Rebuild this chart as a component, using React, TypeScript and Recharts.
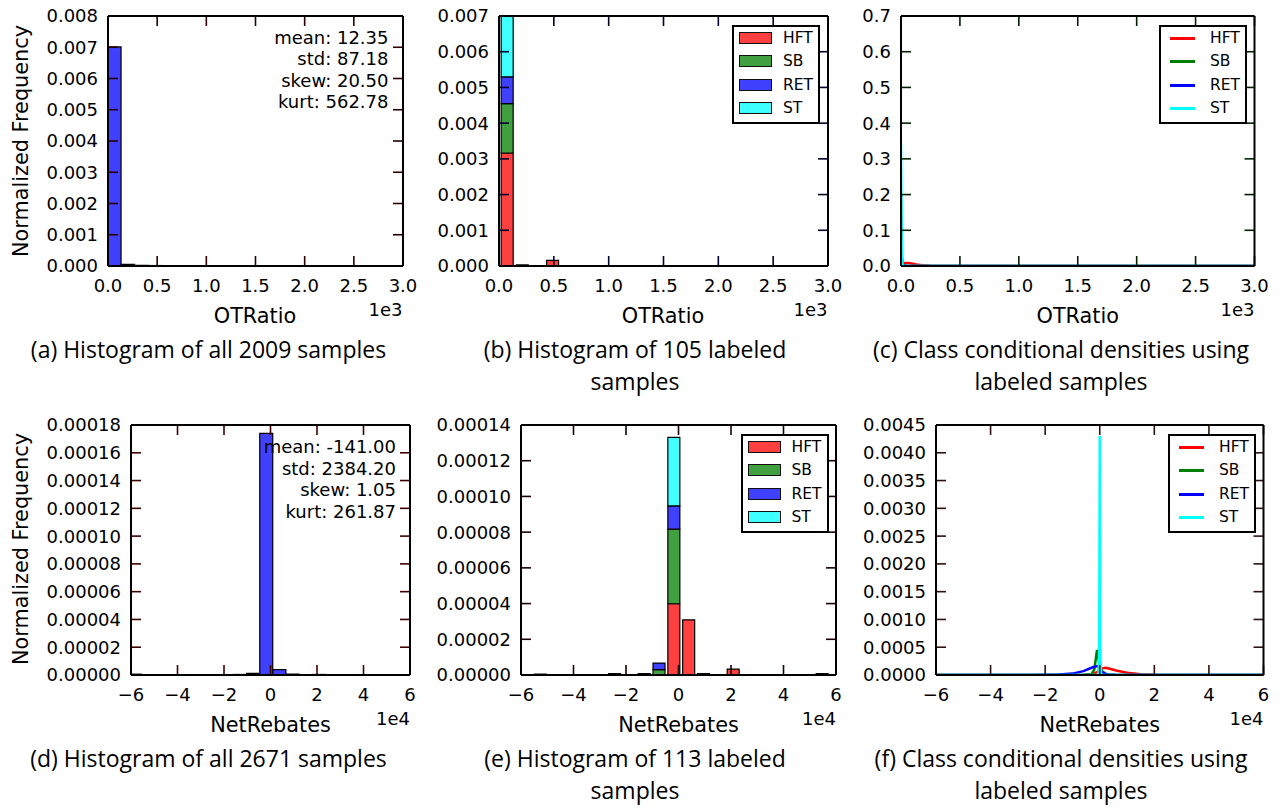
import React from 'react';
import { BarChart, Bar, LineChart, Line, XAxis, YAxis, Legend, ReferenceLine } from 'recharts';

// ---------- shared ----------
const CLASS_NAMES = ['HFT', 'SB', 'RET', 'ST'];
const HIST_COLORS = ['#ff4040', '#40a040', '#4040ff', '#40ffff'];
const LINE_COLORS = ['#ff0000', '#008000', '#0000ff', '#00ffff'];
const ALL_COLOR = '#4040ff';

const OT_TICKS = [0, 500, 1000, 1500, 2000, 2500, 3000];
const NR_TICKS = [-60000, -40000, -20000, 0, 20000, 40000, 60000];

// ---------- (a) OTRatio, all samples ----------
const otBinsAll = [69, 206, 343, 480, 617, 754, 891, 1028, 1165, 1302, 1439, 1576, 1713, 1850, 1987, 2124, 2261, 2398, 2535, 2672];
const otFreqAll = [0.00701, 0.00005, 0.00002, 0.000015, 0.000006, 0.000004, 0.000004, 0.000004, 0, 0.000003, 0, 0, 0.000003, 0, 0, 0, 0, 0, 0, 0.000003];
const otStats = ['mean: 12.35', 'std: 87.18', 'skew: 20.50', 'kurt: 562.78'];
const otYTicksA = [0, 0.001, 0.002, 0.003, 0.004, 0.005, 0.006, 0.007, 0.008];

// ---------- (b) OTRatio, labeled ----------
const otBinsLab = [75, 213, 351, 489, 627, 765, 903, 1041, 1179, 1317, 1455, 1593, 1731, 1869, 2007, 2145, 2283, 2421, 2559, 2697];
const otHFT = [0.003164, 0, 0, 0.00016, 0, 0, 0, 0, 0, 0, 0, 0, 0, 0, 0, 0, 0, 0, 0, 0];
const otSB = [0.001384, 0.00003, 0, 0, 0, 0, 0, 0, 0, 0, 0, 0, 0, 0, 0, 0, 0, 0, 0, 0];
const otRET = [0.000745, 0, 0, 0, 0, 0, 0, 0, 0, 0, 0, 0, 0, 0, 0, 0, 0, 0, 0, 0];
const otST = [0.0017, 0, 0, 0, 0, 0, 0, 0, 0, 0, 0, 0, 0, 0, 0, 0, 0, 0, 0, 0];
const otYTicksB = [0, 0.001, 0.002, 0.003, 0.004, 0.005, 0.006, 0.007];

// ---------- (c) OTRatio, class densities ----------
const otKdeX = [0, 3, 6, 10, 15, 25, 40, 60, 90, 130, 180, 250, 400, 700, 1000, 1500, 2000, 2500, 3000];
const otKdeHFT = [0.002, 0.003, 0.004, 0.005, 0.006, 0.0075, 0.0085, 0.0085, 0.007, 0.0045, 0.002, 0.0006, 0.0001, 0, 0, 0, 0, 0, 0];
const otKdeSB = [0.2, 0.1, 0.04, 0.01, 0.003, 0.001, 0.0003, 0.0001, 0, 0, 0, 0, 0, 0, 0, 0, 0, 0, 0];
const otKdeRET = [0.1, 0.06, 0.03, 0.01, 0.004, 0.0015, 0.0005, 0.0001, 0, 0, 0, 0, 0, 0, 0, 0, 0, 0, 0];
const otKdeST = [0.34, 0.2, 0.07, 0.015, 0.003, 0.0005, 0.0001, 0, 0, 0, 0, 0, 0, 0, 0, 0, 0, 0, 0];
const otYTicksC = [0, 0.1, 0.2, 0.3, 0.4, 0.5, 0.6, 0.7];

// ---------- (d) NetRebates, all samples ----------
const nrBinsAll = [-58300, -52650, -47000, -41350, -35700, -30050, -24400, -18750, -13100, -7450, -1800, 3850, 9500, 15150, 20800, 26450, 32100, 37750, 43400, 49050];
const nrFreqAll = [0.0000006, 0, 0, 0, 0, 0, 0.0000003, 0, 0.0000004, 0.0000012, 0.000174, 0.0000038, 0.0000006, 0.0000002, 0.0000004, 0, 0, 0, 0, 0.0000003];
const nrStats = ['mean: -141.00', 'std: 2384.20', 'skew: 1.05', 'kurt: 261.87'];
const nrYTicksD = [0, 0.00002, 0.00004, 0.00006, 0.00008, 0.0001, 0.00012, 0.00014, 0.00016, 0.00018];

// ---------- (e) NetRebates, labeled ----------
const nrBinsLab = [-52650, -47000, -41350, -35700, -30050, -24400, -18750, -13100, -7450, -1800, 3850, 9500, 15150, 20800, 26450, 32100, 37750, 43400, 49050, 54700];
const nrHFT = [0.0000005, 0, 0, 0, 0, 0.0000008, 0, 0, 0, 0.0000399, 0.0000309, 0.0000008, 0, 0.0000033, 0, 0, 0, 0, 0, 0.0000008];
const nrSB = [0, 0, 0, 0, 0, 0, 0, 0, 0.000003, 0.0000418, 0, 0, 0, 0, 0, 0, 0, 0, 0, 0];
const nrRET = [0, 0, 0, 0, 0, 0, 0, 0.0000008, 0.0000037, 0.000013, 0, 0, 0, 0, 0, 0, 0, 0, 0, 0];
const nrST = [0, 0, 0, 0, 0, 0, 0, 0, 0, 0.0000384, 0, 0, 0, 0, 0, 0, 0, 0, 0, 0];
const nrYTicksE = [0, 0.00002, 0.00004, 0.00006, 0.00008, 0.0001, 0.00012, 0.00014];

// ---------- (f) NetRebates, class densities ----------
const nrKdeX = [-60000, -25000, -20000, -15000, -10000, -6000, -3000, -2000, -1000, -500, -200, 0, 200, 500, 1000, 2000, 3000, 6000, 10000, 15000, 20000, 25000, 60000];
const nrKdeHFT = [0, 0, 0, 0, 0, 0.000005, 0.00002, 0.00003, 0.00005, 0.00007, 0.00008, 0.00009, 0.0001, 0.00011, 0.00012, 0.00013, 0.00012, 0.00008, 0.00004, 0.000012, 0.000003, 0, 0];
const nrKdeSB = [0, 0, 0, 0, 0, 0, 0.00002, 0.0001, 0.00045, 0.0003, 0.0002, 0.00018, 0.00015, 0.0001, 0.00006, 0.00003, 0.00001, 0, 0, 0, 0, 0, 0];
const nrKdeRET = [0, 0, 0.000003, 0.00001, 0.000025, 0.00007, 0.00013, 0.00015, 0.00016, 0.00014, 0.00012, 0.0001, 0.00009, 0.00007, 0.00005, 0.00002, 0.00001, 0.000002, 0, 0, 0, 0, 0];
const nrKdeST = [0, 0, 0, 0, 0, 0, 0, 0, 0, 0, 0.0004, 0.0043, 0.0004, 0, 0, 0, 0, 0, 0, 0, 0, 0, 0];
const nrYTicksF = [0, 0.0005, 0.001, 0.0015, 0.002, 0.0025, 0.003, 0.0035, 0.004, 0.0045];

// ---------- captions ----------
const captions = [
  ['(a) Histogram of all 2009 samples'],
  ['(b) Histogram of 105 labeled', 'samples'],
  ['(c) Class conditional densities using', 'labeled samples'],
  ['(d) Histogram of all 2671 samples'],
  ['(e) Histogram of 113 labeled', 'samples'],
  ['(f) Class conditional densities using', 'labeled samples'],
];

// ---------- geometry helpers ----------
type Rect = { x: number; y: number; w: number; h: number };
const CH_L = 100, CH_T = 12, CH_R = 20, CH_B = 40;
const MARGIN = { top: CH_T - 1, right: CH_R - 1, bottom: CH_B - 30, left: CH_L - 70 };

const RA: Rect = { x: 107.5, y: 15.5, w: 295, h: 250 };
const RB: Rect = { x: 498.5, y: 15.5, w: 329, h: 250 };
const RC: Rect = { x: 901, y: 15.5, w: 353.5, h: 250 };
const RD: Rect = { x: 131, y: 425, w: 279, h: 250 };
const RE: Rect = { x: 521, y: 425, w: 315, h: 250 };
const RF: Rect = { x: 936, y: 425, w: 327.5, h: 250 };

const FONT = { fill: '#000', fontSize: 18, fontFamily: 'DejaVu Sans' };
const AXIS_LINE = { stroke: '#000', strokeWidth: 2 };
const TICK_LEN = 10;
const TICK_W = 1.6;

const fmtOT = (v: number) => (v / 1000).toFixed(1);
const fmtNR = (v: number) => {
  const n = Math.round(v / 10000);
  return n < 0 ? '\u2212' + Math.abs(n) : String(n);
};
const fmtY = (d: number) => (v: number) => v.toFixed(d);

const bottomLabel = (fmt: (v: number) => string) => (props: any) => (
  <text x={props.x} y={props.y + 13} dy="0.71em" textAnchor="middle" {...FONT}>{fmt(props.payload.value)}</text>
);
const leftLabel = (fmt: (v: number) => string) => (props: any) => (
  <text x={props.x - 10} y={props.y} dy="0.36em" textAnchor="end" {...FONT}>{fmt(props.payload.value)}</text>
);

function frameAxes(xDomain: [number, number], xTicks: number[], xFmt: (v: number) => string, yDomain: [number, number], yTicks: number[], yFmt: (v: number) => string) {
  return [
    <XAxis key="xb" type="number" dataKey="x" domain={xDomain} ticks={xTicks} interval={0} allowDataOverflow height={30}
      tick={bottomLabel(xFmt)} axisLine={AXIS_LINE} tickLine={false} tickSize={0} tickMargin={0} />,
    <XAxis key="xt" xAxisId="top" orientation="top" type="number" dataKey="x" domain={xDomain} ticks={xTicks} interval={0} allowDataOverflow height={1}
      tick={false} axisLine={AXIS_LINE} tickLine={false} tickSize={0} />,
    <YAxis key="yl" type="number" domain={yDomain} ticks={yTicks} interval={0} allowDataOverflow width={70}
      tick={leftLabel(yFmt)} axisLine={AXIS_LINE} tickLine={false} tickSize={0} tickMargin={0} />,
    <YAxis key="yr" yAxisId="right" orientation="right" type="number" domain={yDomain} ticks={yTicks} interval={0} allowDataOverflow width={1}
      tick={false} axisLine={AXIS_LINE} tickLine={false} tickSize={0} />,
  ];
}

// inward tick marks on all four sides, placed through the chart's own scales
function tickMarks(r: Rect, xDomain: [number, number], xTicks: number[], yDomain: [number, number], yTicks: number[], color: string) {
  const dy = ((yDomain[1] - yDomain[0]) * TICK_LEN) / r.h;
  const dx = ((xDomain[1] - xDomain[0]) * TICK_LEN) / r.w;
  const out: React.ReactNode[] = [];
  xTicks.forEach((t) => {
    out.push(<ReferenceLine key={`b${t}`} ifOverflow="visible" stroke={color} strokeWidth={TICK_W}
      segment={[{ x: t, y: yDomain[0] }, { x: t, y: yDomain[0] + dy }]} />);
    out.push(<ReferenceLine key={`t${t}`} ifOverflow="visible" stroke={color} strokeWidth={TICK_W}
      segment={[{ x: t, y: yDomain[1] }, { x: t, y: yDomain[1] - dy }]} />);
  });
  yTicks.forEach((t) => {
    out.push(<ReferenceLine key={`l${t}`} ifOverflow="visible" stroke={color} strokeWidth={TICK_W}
      segment={[{ x: xDomain[0], y: t }, { x: xDomain[0] + dx, y: t }]} />);
    out.push(<ReferenceLine key={`r${t}`} ifOverflow="visible" stroke={color} strokeWidth={TICK_W}
      segment={[{ x: xDomain[1], y: t }, { x: xDomain[1] - dx, y: t }]} />);
  });
  return out;
}

function LegendBox({ kind }: { kind: 'patch' | 'line' }) {
  return (
    <div style={{ width: 88, height: 99, boxSizing: 'border-box', border: '2px solid #000', background: '#fff', position: 'relative' }}>
      {CLASS_NAMES.map((name, i) => {
        const cy = Math.round(10.7 + i * 23.5);
        return (
          <React.Fragment key={name}>
            {kind === 'patch' ? (
              <div style={{ position: 'absolute', left: 5, top: cy - 6, width: 33, height: 12, boxSizing: 'border-box', border: '1.5px solid #111', background: HIST_COLORS[i] }} />
            ) : (
              <div style={{ position: 'absolute', left: 9, top: cy - 1, width: 25, height: 3, background: LINE_COLORS[i] }} />
            )}
            <div style={{ position: 'absolute', left: 49, top: cy - 10, height: 20, lineHeight: '20px', fontSize: 15.5, fontFamily: 'DejaVu Sans', color: '#000', whiteSpace: 'nowrap' }}>{name}</div>
          </React.Fragment>
        );
      })}
    </div>
  );
}

function legendEl(r: Rect, kind: 'patch' | 'line') {
  return (
    <Legend layout="vertical" align="center" verticalAlign="middle"
      wrapperStyle={{ position: 'absolute', left: r.w + 4.5, top: CH_T + 9, width: 88, height: 99 }}
      content={() => <LegendBox kind={kind} />} />
  );
}

function box(r: Rect): React.CSSProperties {
  return { position: 'absolute', left: r.x - CH_L, top: r.y - CH_T, width: r.w + CH_L + CH_R, height: r.h + CH_T + CH_B };
}
const cw = (r: Rect) => r.w + CH_L + CH_R;
const chh = (r: Rect) => r.h + CH_T + CH_B;

// ---------- text overlays ----------
function AxisTexts({ r, label, offset }: { r: Rect; label: string; offset: string }) {
  const bottom = r.y + r.h;
  return (
    <>
      <div style={{ position: 'absolute', left: r.x + r.w / 2, top: bottom + 40.4, transform: 'translateX(-50%)', fontSize: 20.8, lineHeight: '20.8px', fontFamily: 'DejaVu Sans', color: '#000', whiteSpace: 'nowrap' }}>{label}</div>
      <div style={{ position: 'absolute', left: r.x + r.w - 100, width: 100, textAlign: 'right', top: bottom + 35.3, fontSize: 18, lineHeight: '18px', fontFamily: 'DejaVu Sans', color: '#000' }}>{offset}</div>
    </>
  );
}

function StatsText({ r, lines }: { r: Rect; lines: string[] }) {
  return (
    <div style={{ position: 'absolute', left: r.x + r.w - 14 - 200, width: 200, top: r.y + 11, textAlign: 'right', fontSize: 18, lineHeight: '21.6px', fontFamily: 'DejaVu Sans', color: '#000', whiteSpace: 'pre' }}>
      {lines.map((l) => <div key={l}>{l}</div>)}
    </div>
  );
}

function YLabel({ cx, cy }: { cx: number; cy: number }) {
  return (
    <div style={{ position: 'absolute', left: cx, top: cy, transform: 'translate(-50%, -50%) rotate(-90deg)', fontSize: 20.8, lineHeight: '20.8px', fontFamily: 'DejaVu Sans', color: '#000', whiteSpace: 'nowrap' }}>Normalized Frequency</div>
  );
}

function Caption({ cx, top, lines }: { cx: number; top: number; lines: string[] }) {
  return (
    <div style={{ position: 'absolute', left: cx - 250, width: 500, top, textAlign: 'center', fontSize: 23, lineHeight: '32px', fontFamily: 'Open Sans', color: '#000' }}>
      {lines.map((l) => <div key={l}>{l}</div>)}
    </div>
  );
}

// ---------- data tables ----------
const dataA = otBinsAll.map((x, i) => ({ x, v: otFreqAll[i] }));
const dataB = otBinsLab.map((x, i) => ({ x, HFT: otHFT[i], SB: otSB[i], RET: otRET[i], ST: otST[i] }));
const dataC = otKdeX.map((x, i) => ({ x, HFT: otKdeHFT[i], SB: otKdeSB[i], RET: otKdeRET[i], ST: otKdeST[i] }));
const dataD = nrBinsAll.map((x, i) => ({ x, v: nrFreqAll[i] }));
const dataE = nrBinsLab.map((x, i) => ({ x, HFT: nrHFT[i], SB: nrSB[i], RET: nrRET[i], ST: nrST[i] }));
const dataF = nrKdeX.map((x, i) => ({ x, HFT: nrKdeHFT[i], SB: nrKdeSB[i], RET: nrKdeRET[i], ST: nrKdeST[i] }));

const OT_X: [number, number] = [0, 3000];
const NR_X: [number, number] = [-60000, 60000];

export default function App() {
  return (
    <div style={{ position: 'absolute', left: 0, top: 0, width: 1282, height: 809, background: '#fff', overflow: 'hidden' }}>
      {/* (a) */}
      <div style={box(RA)}>
        <BarChart width={cw(RA)} height={chh(RA)} data={dataA} margin={MARGIN} barCategoryGap={0} barGap={0}>
          {frameAxes(OT_X, OT_TICKS, fmtOT, [0, 0.008], otYTicksA, fmtY(3))}
          <Bar dataKey="v" fill={ALL_COLOR} stroke="#000" strokeWidth={1.2} isAnimationActive={false} />
          {tickMarks(RA, OT_X, OT_TICKS, [0, 0.008], otYTicksA, '#2a0000')}
        </BarChart>
      </div>
      {/* (b) */}
      <div style={box(RB)}>
        <BarChart width={cw(RB)} height={chh(RB)} data={dataB} margin={MARGIN} barCategoryGap="10%" barGap={0}>
          {frameAxes(OT_X, OT_TICKS, fmtOT, [0, 0.007], otYTicksB, fmtY(3))}
          {CLASS_NAMES.map((c, i) => (
            <Bar key={c} dataKey={c} stackId="s" fill={HIST_COLORS[i]} stroke="#000" strokeWidth={1.2} isAnimationActive={false} />
          ))}
          {tickMarks(RB, OT_X, OT_TICKS, [0, 0.007], otYTicksB, '#00002a')}
          {legendEl(RB, 'patch')}
        </BarChart>
      </div>
      {/* (c) */}
      <div style={box(RC)}>
        <LineChart width={cw(RC)} height={chh(RC)} data={dataC} margin={MARGIN}>
          {frameAxes(OT_X, OT_TICKS, fmtOT, [0, 0.7], otYTicksC, fmtY(1))}
          {CLASS_NAMES.map((c, i) => (
            <Line key={c} dataKey={c} type="linear" stroke={LINE_COLORS[i]} strokeWidth={2.5} dot={false} activeDot={false} isAnimationActive={false} />
          ))}
          {tickMarks(RC, OT_X, OT_TICKS, [0, 0.7], otYTicksC, '#002000')}
          {legendEl(RC, 'line')}
        </LineChart>
      </div>
      {/* (d) */}
      <div style={box(RD)}>
        <BarChart width={cw(RD)} height={chh(RD)} data={dataD} margin={MARGIN} barCategoryGap={0} barGap={0}>
          {frameAxes(NR_X, NR_TICKS, fmtNR, [0, 0.00018], nrYTicksD, fmtY(5))}
          <Bar dataKey="v" fill={ALL_COLOR} stroke="#000" strokeWidth={1.2} isAnimationActive={false} />
          {tickMarks(RD, NR_X, NR_TICKS, [0, 0.00018], nrYTicksD, '#400000')}
        </BarChart>
      </div>
      {/* (e) */}
      <div style={box(RE)}>
        <BarChart width={cw(RE)} height={chh(RE)} data={dataE} margin={MARGIN} barCategoryGap="10%" barGap={0}>
          {frameAxes(NR_X, NR_TICKS, fmtNR, [0, 0.00014], nrYTicksE, fmtY(5))}
          {CLASS_NAMES.map((c, i) => (
            <Bar key={c} dataKey={c} stackId="s" fill={HIST_COLORS[i]} stroke="#000" strokeWidth={1.2} isAnimationActive={false} />
          ))}
          {tickMarks(RE, NR_X, NR_TICKS, [0, 0.00014], nrYTicksE, '#1a0000')}
          {legendEl(RE, 'patch')}
        </BarChart>
      </div>
      {/* (f) */}
      <div style={box(RF)}>
        <LineChart width={cw(RF)} height={chh(RF)} data={dataF} margin={MARGIN}>
          {frameAxes(NR_X, NR_TICKS, fmtNR, [0, 0.0045], nrYTicksF, fmtY(4))}
          {CLASS_NAMES.map((c, i) => (
            <Line key={c} dataKey={c} type="linear" stroke={LINE_COLORS[i]} strokeWidth={2.5} dot={false} activeDot={false} isAnimationActive={false} />
          ))}
          {tickMarks(RF, NR_X, NR_TICKS, [0, 0.0045], nrYTicksF, '#301010')}
          {legendEl(RF, 'line')}
        </LineChart>
      </div>

      <StatsText r={RA} lines={otStats} />
      <StatsText r={RD} lines={nrStats} />

      <AxisTexts r={RA} label="OTRatio" offset="1e3" />
      <AxisTexts r={RB} label="OTRatio" offset="1e3" />
      <AxisTexts r={RC} label="OTRatio" offset="1e3" />
      <AxisTexts r={RD} label="NetRebates" offset="1e4" />
      <AxisTexts r={RE} label="NetRebates" offset="1e4" />
      <AxisTexts r={RF} label="NetRebates" offset="1e4" />

      <YLabel cx={21.1} cy={140.8} />
      <YLabel cx={21.1} cy={549.2} />

      <Caption cx={208.5} top={333.4} lines={captions[0]} />
      <Caption cx={635} top={333.4} lines={captions[1]} />
      <Caption cx={1061} top={333.4} lines={captions[2]} />
      <Caption cx={208.5} top={741.8} lines={captions[3]} />
      <Caption cx={635} top={741.8} lines={captions[4]} />
      <Caption cx={1061} top={741.8} lines={captions[5]} />
    </div>
  );
}
